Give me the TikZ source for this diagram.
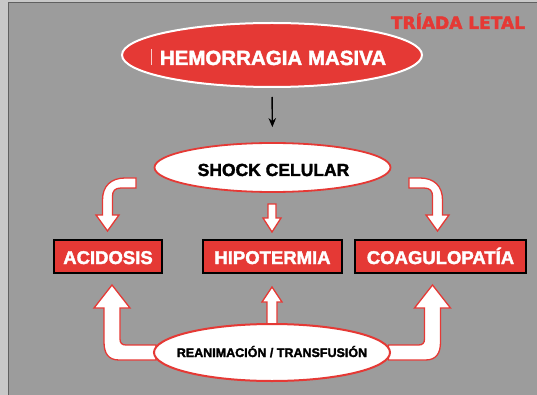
\documentclass[tikz,border=0pt]{standalone}
\usepackage{fontspec}
\setmainfont{Liberation Sans}[BoldFont={Liberation Sans Bold},BoldFeatures={FakeBold=2}]
\newfontfamily\heavyfont{DejaVu Sans Bold}[FakeBold=2.5]
\usetikzlibrary{shapes.geometric,arrows.meta}
\definecolor{tred}{RGB}{229,57,53}
\definecolor{bggray}{RGB}{156,156,156}
\definecolor{edgegray}{RGB}{200,200,200}
\definecolor{lineGray}{RGB}{96,96,96}
\tikzset{
  redoval/.style={ellipse,fill=tred,draw=white,line width=2pt,inner sep=0pt},
  whiteoval/.style={ellipse,fill=white,draw=tred,line width=1.8pt,inner sep=0pt},
  redbox/.style={rectangle,fill=tred,draw=black,line width=2pt,inner sep=0pt},
  boxtext/.style={anchor=base,text=white,font=\bfseries\fontsize{18.5}{20}\selectfont,inner sep=0pt},
  blocky/.style={fill=white,draw=tred,line width=1.3pt,line join=miter},
  thinarrow/.style={draw=black,line width=1.4pt,-{Stealth[length=9pt,width=7.5pt]}}
}
\begin{document}
\begin{tikzpicture}[x=1pt,y=-1pt]
\useasboundingbox (0,0) rectangle (537,395);
% background
\fill[edgegray] (0,0) rectangle (537,395);
\fill[bggray] (7.5,2.5) rectangle (537,395);
\draw[lineGray,line width=1pt] (8,395) -- (8,3) -- (537,3);

% title
\node[anchor=base,text=tred,font=\heavyfont\fontsize{17}{19}\selectfont,inner sep=0pt] (title) at (458,29) {TRÍADA LETAL};

% block arrows (drawn first, ellipses on top)
\path[blocky] (136,178) -- (125,178) .. controls (111,178) and (102.5,186) .. (102.5,200) -- (102.5,215) -- (96,215) -- (107.5,231) -- (119,215) -- (112.5,215) -- (112.5,196) .. controls (112.5,191) and (115,188) .. (121,188) -- (136,188) -- cycle;
\path[blocky] (409,178) -- (420,178) .. controls (434,178) and (442.5,186) .. (442.5,200) -- (442.5,215) -- (449,215) -- (437.5,231) -- (426,215) -- (432.5,215) -- (432.5,196) .. controls (432.5,191) and (430,188) .. (424,188) -- (409,188) -- cycle;
\path[blocky] (268,204) -- (276,204) -- (276,218) -- (281,218) -- (272,232) -- (263,218) -- (268,218) -- cycle;
\path[blocky] (156,345) -- (126,345) .. controls (122,345) and (120,343) .. (120,339) -- (120,308) -- (130,308) -- (112,285) -- (94,308) -- (104,308) -- (104,342) .. controls (104,353) and (108,360) .. (119,360) -- (156,360) -- cycle;
\path[blocky] (388.5,345) -- (418.5,345) .. controls (422.5,345) and (424.5,343) .. (424.5,339) -- (424.5,308) -- (414.5,308) -- (432.5,285) -- (450.5,308) -- (440.5,308) -- (440.5,342) .. controls (440.5,353) and (436.5,360) .. (425.5,360) -- (388.5,360) -- cycle;
\path[blocky] (267,326) -- (267,302) -- (262,302) -- (272,287) -- (282,302) -- (277,302) -- (277,326) -- cycle;

% ellipses
\node[redoval,minimum width=300pt,minimum height=64pt] (hem) at (272,55) {};
\node[anchor=base,text=white,font=\bfseries\fontsize{20.5}{22}\selectfont,inner sep=0pt] (hemt) at (273,65) {HEMORRAGIA MASIVA};
\draw[white!75!tred,line width=0.6pt] (151.5,49) -- (151.5,65);

\node[whiteoval,minimum width=236pt,minimum height=49pt] (shock) at (272.5,167.5) {};
\node[anchor=base,text=black,font=\bfseries\fontsize{17.5}{19}\selectfont,inner sep=0pt] (shockt) at (273.5,176) {SHOCK CELULAR};

\node[whiteoval,line width=2pt,minimum width=236pt,minimum height=57pt] (rean) at (272,352.5) {};
\node[anchor=base,text=black,font=\bfseries\fontsize{12.5}{14}\selectfont,inner sep=0pt] (reant) at (272,357) {REANIMACIÓN / TRANSFUSIÓN};

% black arrow
\draw[thinarrow,shorten <=9pt,shorten >=15pt] (hem.south) -- (shock.north);

% boxes
\node[redbox,minimum width=108pt,minimum height=33pt] (acid) at (108,256.5) {};
\node[boxtext] (acidt) at (108,264) {ACIDOSIS};
\node[redbox,minimum width=139pt,minimum height=33pt] (hipo) at (272.5,256.5) {};
\node[boxtext] (hipot) at (272.5,264) {HIPOTERMIA};
\node[redbox,minimum width=171pt,minimum height=33pt] (coag) at (440.5,256.5) {};
\node[boxtext] (coagt) at (440.5,264) {COAGULOPATÍA};
\end{tikzpicture}
\end{document}
